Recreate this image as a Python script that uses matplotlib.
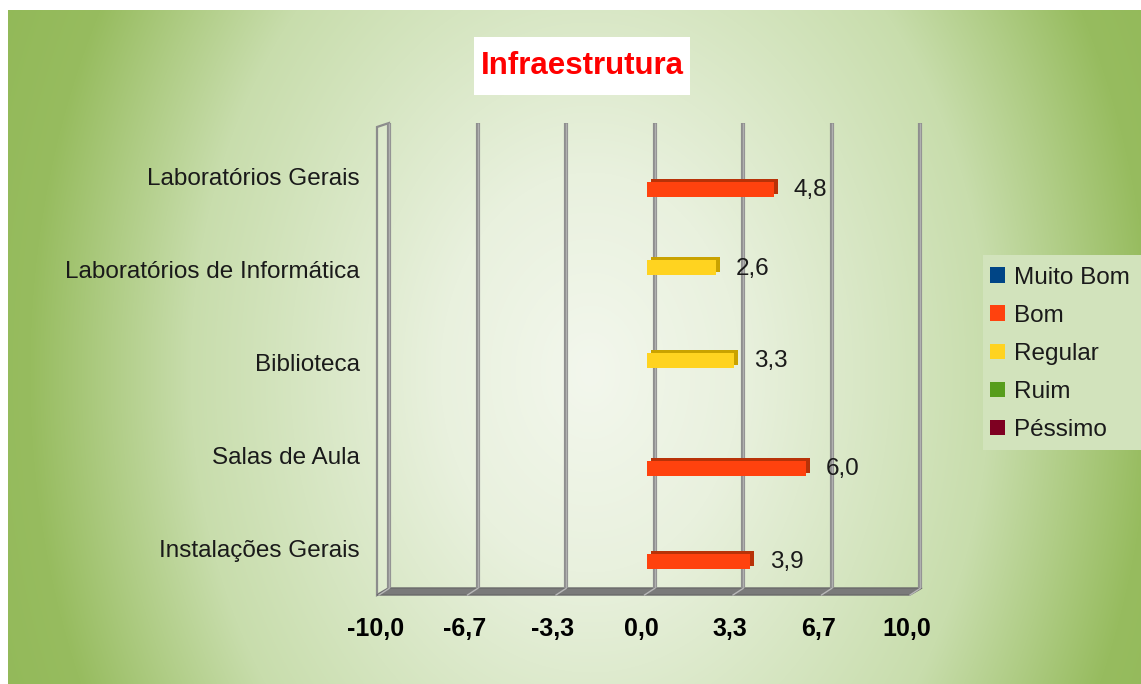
import numpy as np
import matplotlib
matplotlib.use("Agg")
import matplotlib.pyplot as plt
from matplotlib.transforms import ScaledTranslation
from matplotlib.patches import Polygon, Rectangle, Patch
from matplotlib import font_manager

# ---------------- data ----------------
categories = ["Laboratórios Gerais", "Laboratórios de Informática", "Biblioteca",
              "Salas de Aula", "Instalações Gerais"]
series_names = ["Muito Bom", "Bom", "Regular", "Ruim", "Péssimo"]
series_colors = ["#004586", "#ff420e", "#ffd320", "#579d1c", "#7e0021"]
side_colors = ["#002a52", "#b83208", "#c9a200", "#3a6a12", "#4f0015"]
muito_bom = [0, 0, 0, 0, 0]
bom = [4.8, 0, 0, 6.0, 3.9]
regular = [0, 2.6, 3.3, 0, 0]
ruim = [0, 0, 0, 0, 0]
pessimo = [0, 0, 0, 0, 0]
x_ticks = [-10.0, -20 / 3, -10 / 3, 0.0, 10 / 3, 20 / 3, 10.0]
x_tick_labels = ["-10,0", "-6,7", "-3,3", "0,0", "3,3", "6,7", "10,0"]
title = "Infraestrutura"

# ---------------- setup ----------------
W, H = 1141, 684
DPI = 100
plt.rcParams["font.family"] = ["Liberation Sans", "DejaVu Sans"]
names = {f.name for f in font_manager.fontManager.ttflist}
if "Liberation Sans Narrow" in names:
    tick_family, tick_size = "Liberation Sans Narrow", 20.5
else:
    tick_family, tick_size = "Liberation Sans", 18

fig = plt.figure(figsize=(W / DPI, H / DPI), dpi=DPI)

# background gradient (pixel coordinates, y down)
bg = fig.add_axes([0, 0, 1, 1])
bg.set_axis_off()
yy, xx = np.mgrid[0:H, 0:W]
r = np.hypot(xx - 590, (yy - 372) * 0.75)
rs = [0, 150, 300, 400, 480, 560, 700]
cols = np.array([(243, 247, 237), (233, 241, 222), (213, 229, 192), (200, 221, 172),
                 (176, 205, 134), (151, 188, 95), (143, 183, 84)]) / 255.0
img = np.stack([np.interp(r, rs, cols[:, k]) for k in range(3)], axis=-1)
img[:10, :] = 1.0
img[:, :8] = 1.0
bg.imshow(img, extent=[0, W, H, 0], aspect="auto", interpolation="bilinear")
bg.set_xlim(0, W)
bg.set_ylim(H, 0)

# main axes (back plane)
ax = fig.add_axes([389 / W, (H - 588) / H, 531 / W, 465 / H])
ax.patch.set_alpha(0)
ax.set_xlim(-10, 10)
ax.set_ylim(-0.5, len(categories) - 0.5)
for s in ax.spines.values():
    s.set_visible(False)


def to_px(x, y):
    dx, dy = ax.transData.transform((x, y))
    return dx, H - dy


# left wall and floor (3D frame)
x0, yb = to_px(-10, -0.5)
x1, yt = to_px(10, len(categories) - 0.5)
bg.add_patch(Polygon([(x0, yt), (x0 - 12, yt + 4), (x0 - 12, yb + 7), (x0, yb)],
                     closed=True, facecolor=(1, 1, 1, 0.15), edgecolor="#8c8c8c", lw=1.6, zorder=2))
bg.add_patch(Polygon([(x0 - 12, yb + 7), (x0, yb), (x1 + 2, yb), (x1 - 10, yb + 7)],
                     closed=True, facecolor="#7a7a7a", edgecolor="#6a6a6a", lw=1.0, zorder=2))
for t in x_ticks:
    px, py = to_px(t, -0.5)
    bg.plot([px, px - 10], [py + 0.5, py + 7], color="#b8b8b8", lw=1.0, zorder=3)

# gridlines
ax.vlines(x_ticks, -0.5, len(categories) - 0.5, colors="#8e8e8e", lw=3.0, clip_on=False, zorder=1)
ax.vlines(x_ticks, -0.5, len(categories) - 0.5, colors="#b0b0b0", lw=1.0, clip_on=False, zorder=1)

# bars
ys = np.arange(len(categories))[::-1]
slot = 0.158
series_vals = [muito_bom, bom, regular, ruim, pessimo]
front = ax.transData + ScaledTranslation(-8 / DPI, -5 / DPI, fig.dpi_scale_trans)
side = ax.transData + ScaledTranslation(-4 / DPI, -2 / DPI, fig.dpi_scale_trans)
for i, (vals, c, sc) in enumerate(zip(series_vals, series_colors, side_colors)):
    yi = ys + (i - 2) * slot
    v = np.array(vals, dtype=float)
    ax.barh(yi, v, height=slot, color=sc, lw=0, transform=side, zorder=3)
    ax.barh(yi, v, height=slot, color=c, lw=0, transform=front, zorder=4)
    for yv, val in zip(yi, v):
        if val != 0:
            ax.annotate(f"{val:.1f}".replace(".", ","), xy=(val, yv), xytext=(12, -6),
                        textcoords="offset pixels", ha="left", va="center",
                        fontsize=17.5, color="#1a1a1a", zorder=5)

# y tick labels (front plane)
ax.set_yticks(ys, categories)
ax.tick_params(axis="y", length=0, pad=20.9, labelsize=17.5, labelcolor="#1a1a1a")
for lab in ax.get_yticklabels():
    lab.set_transform(lab.get_transform() + ScaledTranslation(0, -7 / DPI, fig.dpi_scale_trans))

# x tick labels
ax.set_xticks(x_ticks, x_tick_labels)
ax.tick_params(axis="x", length=0, pad=21, labelsize=tick_size, labelcolor="#000000")
for lab in ax.get_xticklabels():
    lab.set_fontfamily(tick_family)
    lab.set_fontweight("bold")
    lab.set_transform(lab.get_transform() + ScaledTranslation(-13 / DPI, 0, fig.dpi_scale_trans))

# title
bg.add_patch(Rectangle((474, 37), 216, 58, facecolor="white", edgecolor="none", zorder=2))
bg.text(582, 66, title, color="#ff0000", fontsize=22.5, fontweight="bold",
        ha="center", va="center", zorder=3)

# legend
bg.add_patch(Rectangle((983, 255), 170, 195, facecolor="#d2e3bc", edgecolor="none", zorder=2))
handles = [Patch(facecolor=c, edgecolor="none") for c in series_colors]
leg = ax.legend(handles, series_names, loc="upper left", bbox_to_anchor=(980, 257),
                bbox_transform=bg.transData, frameon=False, fontsize=17.5,
                handlelength=0.62, handleheight=0.6, handletextpad=0.37,
                labelspacing=0.66, borderpad=0.4, borderaxespad=0)
for t in leg.get_texts():
    t.set_color("#1a1a1a")

fig.savefig("out.png", dpi=DPI)
